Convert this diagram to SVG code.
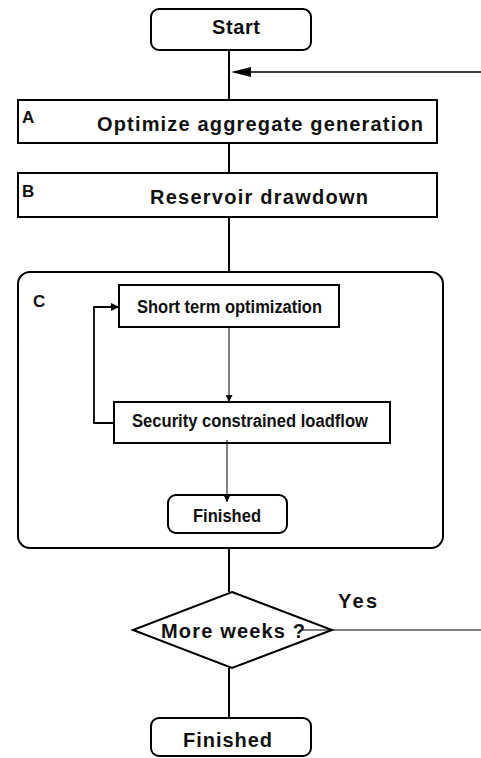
<svg xmlns="http://www.w3.org/2000/svg" width="481" height="758" viewBox="0 0 481 758">
<style>
.box{fill:#fff;stroke:#000;stroke-width:2}
.frame{fill:none;stroke:#000;stroke-width:2}
.t{font-family:"Liberation Sans",Arial,sans-serif;font-weight:bold;fill:#111}
.big{font-size:20px}
.lab{font-size:17px}
.in{font-size:18px}
.ln{fill:none;stroke:#000;stroke-width:2}
.thin{fill:none;stroke:#000;stroke-width:1}
</style>
<defs>
<marker id="ahSm" markerWidth="8" markerHeight="8" refX="8" refY="4" orient="auto" markerUnits="userSpaceOnUse">
<path d="M0,0 L8,4 L0,8 Z" fill="#000"/>
</marker>
<marker id="ahTiny" markerWidth="7" markerHeight="7" refX="7" refY="3.5" orient="auto" markerUnits="userSpaceOnUse">
<path d="M0,0 L7,3.5 L0,7 Z" fill="#000"/>
</marker>
</defs>

<g id="start">
<rect class="box" x="151" y="9" width="160" height="41" rx="8"/>
<text class="t big" x="236" y="34" text-anchor="middle" textLength="48" lengthAdjust="spacing">Start</text>
</g>

<g id="nodeA">
<rect class="box" x="18" y="100" width="419" height="43"/>
<text class="t lab" x="22" y="123">A</text>
<text class="t big" x="97" y="131" textLength="326" lengthAdjust="spacing">Optimize aggregate generation</text>
</g>

<g id="nodeB">
<rect class="box" x="18" y="173" width="419" height="44"/>
<text class="t lab" x="22" y="197">B</text>
<text class="t big" x="150" y="204" textLength="218" lengthAdjust="spacing">Reservoir drawdown</text>
</g>

<g id="nodeC">
<rect class="frame" x="18" y="272" width="425" height="276" rx="12"/>
<text class="t lab" x="33" y="307">C</text>
</g>

<g id="shortTerm">
<rect class="box" x="119" y="285" width="220" height="42"/>
<text class="t in" x="137" y="313" textLength="185" lengthAdjust="spacingAndGlyphs">Short term optimization</text>
</g>

<g id="security">
<rect class="box" x="114" y="402" width="276" height="41"/>
<text class="t in" x="132" y="427" textLength="236" lengthAdjust="spacingAndGlyphs">Security constrained loadflow</text>
</g>

<g id="finishedInner">
<rect class="box" x="168" y="495" width="119" height="38" rx="8"/>
<text class="t in" x="193" y="522" textLength="68" lengthAdjust="spacingAndGlyphs">Finished</text>
</g>

<g id="decision">
<polygon class="box" points="232,592 332,630 232,668 133,630"/>
<text class="t big" x="161" y="638" textLength="144" lengthAdjust="spacing">More weeks ?</text>
<text class="t big" x="338" y="608" textLength="39" lengthAdjust="spacing">Yes</text>
</g>

<g id="finished">
<rect class="box" x="151" y="718" width="160" height="38" rx="8"/>
<text class="t big" x="183" y="747" textLength="89" lengthAdjust="spacing">Finished</text>
</g>

<g id="connectors">
<line class="ln" x1="229" y1="51" x2="229" y2="99"/>
<line class="ln" x1="481" y1="72" x2="250" y2="72" style="stroke-width:1.5"/>
<path d="M231,72 L251,67 L251,77 Z" fill="#000"/>
<line class="ln" x1="229" y1="144" x2="229" y2="172"/>
<line class="ln" x1="229" y1="218" x2="229" y2="271"/>
<line class="thin" x1="229" y1="328" x2="229" y2="402" marker-end="url(#ahTiny)"/>
<polyline class="ln" points="113,423 94,423 94,307 119,307" style="stroke-width:1.8" marker-end="url(#ahSm)"/>
<line class="thin" x1="227" y1="440" x2="227" y2="502" marker-end="url(#ahTiny)"/>
<line class="ln" x1="229" y1="549" x2="229" y2="592"/>
<line class="thin" x1="303" y1="630" x2="481" y2="630"/>
<line class="ln" x1="229" y1="668" x2="229" y2="717"/>
</g>
</svg>
